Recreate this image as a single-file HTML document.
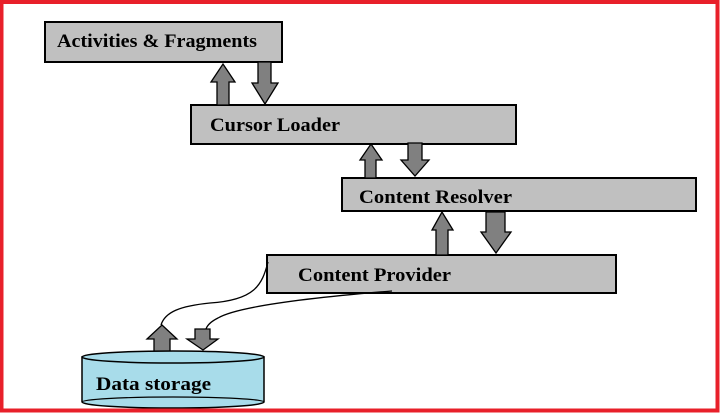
<!DOCTYPE html>
<html><head><style>html,body{margin:0;padding:0;background:#fff;}</style></head>
<body>
<svg width="720" height="413" xmlns="http://www.w3.org/2000/svg" style="display:block">
<rect x="0" y="0" width="720" height="413" fill="#fff"/>
<g stroke="#000" stroke-width="2" fill="#c0c0c0">
<rect x="45" y="22" width="237" height="40"/>
<rect x="191" y="105" width="325" height="39"/>
<rect x="342" y="178" width="354" height="33"/>
<rect x="267" y="255" width="349" height="38"/>
</g>
<g fill="#808080" stroke="#000" stroke-width="1.3">
<polygon points="217,105 229,105 229,82 235,82 223,64 211,82 217,82"/>
<polygon points="258,62 271,62 271,83 278,83 265,104 252,83 258,83"/>
<polygon points="365,178 376,178 376,160 382,160 371,144 360,160 365,160"/>
<polygon points="408,143 422,143 422,160 429,160 415,176 401,160 408,160"/>
<polygon points="436,255 448,255 448,230 453,230 442,212 432,230 436,230"/>
<polygon points="486,212 505,212 505,232 511,232 496,253 481,232 486,232"/>
<polygon points="154,352 170,352 170,339 177,339 162,325 147,339 154,339"/>
<polygon points="195,329 210,329 210,339 218,339 203,350 187,339 195,339"/>
</g>
<g fill="none" stroke="#000" stroke-width="1.3">
<path d="M268,262 C262,285 255,300 210,303 C180,306 165,312 161,325"/>
<path d="M392,291 C330,296 240,305 218,318 C210,322 207,326 206,329"/>
</g>
<g stroke="#000" stroke-width="1.5" fill="#a8dcea">
<path d="M82,357 L82,402 A91,6 0 0 0 264,402 L264,357 Z"/>
<ellipse cx="173" cy="357" rx="91" ry="6"/>
</g>
<path d="M82,402 A91,5 0 0 1 264,402" fill="none" stroke="#000" stroke-width="1.2"/>
<g font-family="Liberation Serif, serif" font-weight="bold" font-size="19" fill="#000" lengthAdjust="spacingAndGlyphs">
<text x="57" y="47" textLength="200" lengthAdjust="spacingAndGlyphs">Activities &amp; Fragments</text>
<text x="210" y="131" textLength="130" lengthAdjust="spacingAndGlyphs">Cursor Loader</text>
<text x="359" y="203" textLength="153" lengthAdjust="spacingAndGlyphs">Content Resolver</text>
<text x="298" y="281" textLength="153" lengthAdjust="spacingAndGlyphs">Content Provider</text>
<text x="96" y="390" textLength="115" lengthAdjust="spacingAndGlyphs">Data storage</text>
</g>
<rect x="1.5" y="2" width="716" height="408.5" fill="none" stroke="#e8202a" stroke-width="4"/>
</svg>
</body></html>
